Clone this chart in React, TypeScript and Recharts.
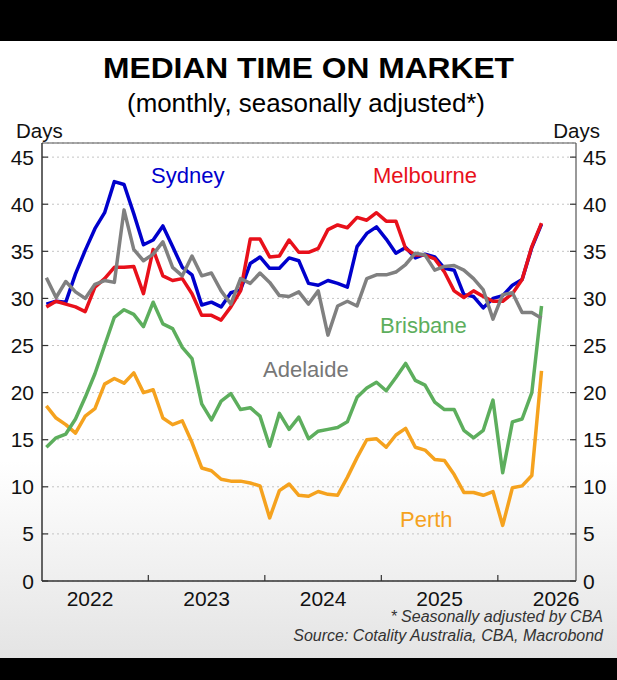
import { LineChart, Line, XAxis, YAxis, CartesianGrid, ReferenceLine } from "recharts";

// monthly readings, first point = Feb 2022
const SYDNEY = [
  29.4, 29.7, 29.6, 32.6, 35.1, 37.4, 39.1, 42.4, 42.1, 39.0, 35.7, 36.2, 37.7,
  35.5, 33.3, 32.5, 29.3, 29.6, 29.1, 30.6, 30.9, 33.7, 34.4, 33.2, 33.2, 34.3,
  34.0, 31.6, 31.4, 31.9, 31.6, 31.2, 35.5, 36.9, 37.6, 36.3, 34.8, 35.4, 34.3,
  34.7, 34.4, 33.2, 33.0, 30.4, 30.2, 29.0, 30.0, 30.3, 31.4, 32.0, 35.4, 37.9,
];
const MELBOURNE = [
  29.1, 29.7, 29.4, 29.1, 28.6, 31.2, 32.1, 33.3, 33.3, 33.4, 30.5, 35.2, 32.4,
  31.9, 32.1, 30.5, 28.2, 28.2, 27.7, 29.1, 30.8, 36.3, 36.3, 34.4, 34.5, 36.2,
  34.9, 34.9, 35.3, 37.3, 37.8, 37.5, 38.6, 38.3, 39.1, 38.2, 38.2, 35.3, 34.6,
  34.6, 34.2, 32.8, 30.8, 30.1, 30.8, 30.2, 29.7, 29.7, 30.5, 32.0, 35.5, 38.0,
];
const ADELAIDE = [
  32.2, 30.1, 31.8, 30.7, 30.0, 31.5, 31.9, 31.7, 39.4, 35.2, 34.0, 34.7, 36.0,
  33.3, 32.4, 34.5, 32.4, 32.7, 30.8, 29.4, 32.1, 31.6, 32.7, 31.7, 30.3, 30.2,
  30.7, 29.4, 30.8, 26.1, 29.2, 29.7, 29.2, 32.1, 32.5, 32.5, 32.8, 33.6, 34.8,
  34.6, 33.0, 33.4, 33.5, 33.0, 32.1, 30.9, 27.8, 30.4, 30.6, 28.5, 28.5, 27.9,
];
const BRISBANE = [
  14.2, 15.2, 15.6, 17.2, 19.5, 22.0, 25.0, 28.0, 28.8, 28.3, 27.0, 29.6, 27.3,
  26.8, 24.8, 23.6, 18.8, 17.1, 19.1, 19.9, 18.2, 18.4, 17.5, 14.3, 17.8, 16.1,
  17.4, 15.1, 15.9, 16.1, 16.3, 16.9, 19.5, 20.5, 21.1, 20.2, 21.6, 23.1, 21.3,
  20.8, 19.0, 18.2, 18.2, 16.0, 15.2, 16.0, 19.2, 11.5, 16.9, 17.2, 20.0, 29.2,
];
const PERTH = [
  18.6, 17.3, 16.6, 15.7, 17.5, 18.3, 20.9, 21.5, 21.0, 22.1, 20.0, 20.3, 17.3,
  16.6, 17.0, 14.7, 12.0, 11.7, 10.8, 10.6, 10.6, 10.4, 10.1, 6.7, 9.6, 10.3,
  9.1, 9.0, 9.5, 9.2, 9.1, 11.0, 13.1, 15.0, 15.1, 14.2, 15.5, 16.2, 14.2,
  13.9, 12.9, 12.8, 11.3, 9.4, 9.4, 9.1, 9.5, 5.9, 9.9, 10.1, 11.2, 22.3,
];

const YEARS = ["2022", "2023", "2024", "2025", "2026"];
const Y_TICKS = [0, 5, 10, 15, 20, 25, 30, 35, 40, 45];
const X_TICKS = [6, 12, 18, 24, 30, 36, 42, 48, 54]; // months since Jan 2022

const COLORS = {
  sydney: "#0000cc",
  melbourne: "#e8101a",
  adelaide: "#808080",
  brisbane: "#5dae5d",
  perth: "#f5a21e",
};

const FONT = '"Liberation Sans", Arial, Helvetica, sans-serif';

// x = months since Jan 2022, plotted mid-month
const data = SYDNEY.map((v, i) => ({
  t: i + 1.5,
  sydney: v,
  melbourne: MELBOURNE[i],
  adelaide: ADELAIDE[i],
  brisbane: BRISBANE[i],
  perth: PERTH[i],
}));

const LeftTick = ({ x, y, payload }: any) => (
  <g>
    <line x1={x} x2={x + 6} y1={y} y2={y} stroke="#333" strokeWidth={1.2} />
    <text x={x - 8} y={y} dy="0.36em" textAnchor="end" fontSize={21} fontFamily={FONT} fill="#111">
      {payload.value}
    </text>
  </g>
);

const RightTick = ({ x, y, payload }: any) => (
  <g>
    <line x1={x} x2={x - 6} y1={y} y2={y} stroke="#333" strokeWidth={1.2} />
    <text x={x + 7} y={y} dy="0.36em" textAnchor="start" fontSize={21} fontFamily={FONT} fill="#111">
      {payload.value}
    </text>
  </g>
);

const YearTick = ({ x, y, payload }: any) => {
  const v = payload.value;
  if (v % 12 === 0) {
    return <line x1={x} x2={x} y1={y} y2={y - 6} stroke="#333" strokeWidth={1.2} />;
  }
  return (
    <text x={x} y={y + 25} textAnchor="middle" fontSize={21} fontFamily={FONT} fill="#111">
      {YEARS[(v - 6) / 12]}
    </text>
  );
};

const LABELS = [
  { text: "Sydney", x: 151, y: 183, color: COLORS.sydney },
  { text: "Melbourne", x: 373, y: 183, color: COLORS.melbourne },
  { text: "Brisbane", x: 380, y: 333, color: COLORS.brisbane },
  { text: "Adelaide", x: 263, y: 377, color: "#777777" },
  { text: "Perth", x: 400, y: 527, color: COLORS.perth },
];

export default function App() {
  return (
    <div
      style={{
        position: "absolute",
        left: 0,
        top: 0,
        width: 617,
        height: 680,
        background: "#000",
        fontFamily: FONT,
      }}
    >
      <div
        style={{
          position: "absolute",
          left: 0,
          top: 41,
          width: 617,
          height: 617,
          background: "linear-gradient(to bottom, #ffffff 0%, #ffffff 68%, #e4e4e4 100%)",
        }}
      />
      <div style={{ position: "absolute", left: 0, top: 0 }}>
        <LineChart
          width={617}
          height={680}
          data={data}
          margin={{ top: 143, right: 0, bottom: 59, left: 0 }}
        >
          <CartesianGrid
            yAxisId="left"
            vertical={false}
            stroke="#c4c4c4"
            strokeDasharray="2 3"
          />
          <XAxis
            dataKey="t"
            type="number"
            domain={[1.05, 56.05]}
            allowDataOverflow
            ticks={X_TICKS}
            interval={0}
            tick={<YearTick />}
            tickLine={false}
            tickSize={0}
            tickMargin={0}
            height={40}
            axisLine={{ stroke: "#333", strokeWidth: 1.5 }}
          />
          <YAxis
            yAxisId="left"
            domain={[0, 46.5]}
            allowDataOverflow
            ticks={Y_TICKS}
            interval={0}
            tick={<LeftTick />}
            tickLine={false}
            tickSize={0}
            tickMargin={0}
            width={42}
            axisLine={{ stroke: "#333", strokeWidth: 1.5 }}
          />
          <YAxis
            yAxisId="right"
            orientation="right"
            domain={[0, 46.5]}
            allowDataOverflow
            ticks={Y_TICKS}
            interval={0}
            tick={<RightTick />}
            tickLine={false}
            tickSize={0}
            tickMargin={0}
            width={41}
            axisLine={{ stroke: "#555", strokeWidth: 1.2 }}
          />
          <ReferenceLine yAxisId="left" y={46.5} stroke="#555" strokeWidth={1.2} />
          <Line yAxisId="left" dataKey="perth" stroke={COLORS.perth} strokeWidth={3.5} strokeLinejoin="round" dot={false} isAnimationActive={false} />
          <Line yAxisId="left" dataKey="brisbane" stroke={COLORS.brisbane} strokeWidth={3.5} strokeLinejoin="round" dot={false} isAnimationActive={false} />
          <Line yAxisId="left" dataKey="sydney" stroke={COLORS.sydney} strokeWidth={3.5} strokeLinejoin="round" dot={false} isAnimationActive={false} />
          <Line yAxisId="left" dataKey="melbourne" stroke={COLORS.melbourne} strokeWidth={3.5} strokeLinejoin="round" dot={false} isAnimationActive={false} />
          <Line yAxisId="right" dataKey="adelaide" stroke={COLORS.adelaide} strokeWidth={3.5} strokeLinejoin="round" dot={false} isAnimationActive={false} />
        </LineChart>
      </div>
      <svg
        width={617}
        height={680}
        style={{ position: "absolute", left: 0, top: 0, pointerEvents: "none" }}
        fontFamily={FONT}
      >
        <text x={308.5} y={77.5} textAnchor="middle" fontSize={29} fontWeight="bold" fill="#000" textLength={411} lengthAdjust="spacingAndGlyphs">
          MEDIAN TIME ON MARKET
        </text>
        <text x={306} y={112} textAnchor="middle" fontSize={25} fill="#000" textLength={358} lengthAdjust="spacingAndGlyphs">
          (monthly, seasonally adjusted*)
        </text>
        <text x={16} y={138} fontSize={20.5} fill="#111">Days</text>
        <text x={600} y={138} fontSize={20.5} fill="#111" textAnchor="end">Days</text>
        {LABELS.map((l) => (
          <text key={l.text} x={l.x} y={l.y} fontSize={22} fill={l.color}>
            {l.text}
          </text>
        ))}
        <text x={603} y={622} textAnchor="end" fontSize={16} fontStyle="italic" fill="#333">
          * Seasonally adjusted by CBA
        </text>
        <text x={603} y={641} textAnchor="end" fontSize={16} fontStyle="italic" fill="#333">
          Source: Cotality Australia, CBA, Macrobond
        </text>
      </svg>
    </div>
  );
}
